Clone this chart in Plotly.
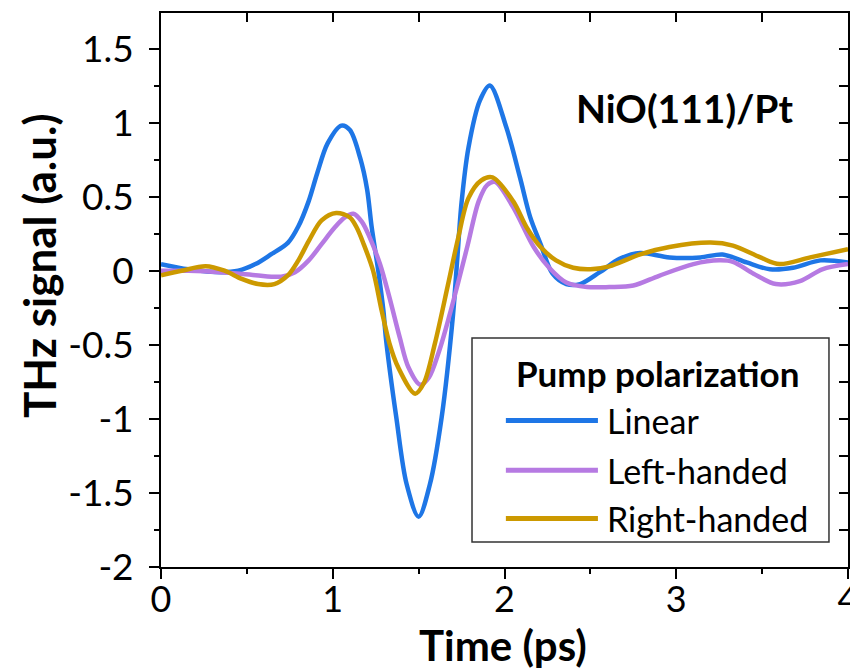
import numpy as np
import plotly.graph_objects as go

# ---------------- data ----------------
series_names = ["Linear", "Left-handed", "Right-handed"]
series_colors = ["rgb(30,118,230)", "rgb(182,122,226)", "rgb(204,153,0)"]

t_linear = [0.00, 0.16, 0.35, 0.45, 0.55, 0.64, 0.74, 0.80, 0.86, 0.91, 0.97, 1.05,
            1.10, 1.16, 1.20, 1.226, 1.265, 1.295, 1.31, 1.37, 1.43, 1.50, 1.566,
            1.634, 1.70, 1.725, 1.75, 1.79, 1.857, 1.915, 2.01, 2.09, 2.15, 2.21,
            2.28, 2.36, 2.44, 2.555, 2.67, 2.79, 2.96, 3.14, 3.27, 3.41, 3.545,
            3.68, 3.84, 4.00]
v_linear = [0.045, 0.01, -0.01, 0.00, 0.045, 0.11, 0.19, 0.30, 0.47, 0.66, 0.86, 0.98,
            0.95, 0.76, 0.55, 0.30, 0.00, -0.27, -0.46, -0.99, -1.44, -1.66, -1.44,
            -0.99, -0.30, 0.08, 0.46, 0.83, 1.15, 1.25, 0.97, 0.63, 0.36, 0.18,
            -0.02, -0.09, -0.09, -0.01, 0.08, 0.12, 0.09, 0.09, 0.11, 0.056, 0.01,
            0.02, 0.07, 0.055]

t_left = [0.00, 0.16, 0.35, 0.55, 0.70, 0.78, 0.86, 0.935, 1.01, 1.07, 1.12, 1.17,
          1.215, 1.275, 1.33, 1.39, 1.44, 1.51, 1.56, 1.62, 1.68, 1.73, 1.785,
          1.85, 1.90, 1.945, 2.05, 2.17, 2.26, 2.36, 2.48, 2.61, 2.75, 2.90, 3.10,
          3.25, 3.33, 3.45, 3.58, 3.72, 3.85, 4.00]
v_left = [0.00, 0.00, -0.01, -0.03, -0.04, -0.01, 0.07, 0.18, 0.29, 0.36, 0.385, 0.33,
          0.225, 0.045, -0.18, -0.45, -0.65, -0.77, -0.72, -0.54, -0.30, -0.08, 0.17,
          0.47, 0.58, 0.60, 0.43, 0.16, 0.02, -0.08, -0.11, -0.11, -0.10, -0.034, 0.045,
          0.07, 0.06, -0.02, -0.09, -0.07, 0.01, 0.045]

t_right = [0.00, 0.12, 0.26, 0.37, 0.47, 0.565, 0.66, 0.74, 0.80, 0.86, 0.935, 1.02,
           1.10, 1.14, 1.18, 1.235, 1.285, 1.33, 1.38, 1.48, 1.53, 1.595, 1.67, 1.73,
           1.79, 1.865, 1.93, 2.05, 2.13, 2.21, 2.30, 2.40, 2.50, 2.61, 2.79, 2.96,
           3.20, 3.33, 3.49, 3.60, 3.78, 4.00]
v_right = [-0.03, 0.00, 0.03, 0.00, -0.055, -0.09, -0.09, -0.03, 0.07, 0.20, 0.34, 0.39,
           0.36, 0.29, 0.18, 0.00, -0.27, -0.49, -0.65, -0.83, -0.76, -0.49, -0.10, 0.22,
           0.49, 0.61, 0.63, 0.47, 0.29, 0.16, 0.07, 0.02, 0.01, 0.03, 0.11, 0.16,
           0.19, 0.17, 0.09, 0.045, 0.09, 0.146]

x_tickvals = [0, 1, 2, 3, 4]
x_ticktext = ["0", "1", "2", "3", "4"]
y_tickvals = [-2, -1.5, -1, -0.5, 0, 0.5, 1, 1.5]
y_ticktext = ["-2", "-1.5", "-1", "-0.5", "0", "0.5", "1", "1.5"]

x_title = "Time (ps)"
y_title = "THz signal (a.u.)"
sample_label = "NiO(111)/Pt"
legend_title = "Pump polarization"

# ---------------- figure ----------------
# The page body has an 8px margin, so the figure is 8px smaller on each axis.
FONT = "Lato, 'Open Sans', sans-serif"
fig = go.Figure()

all_t = [t_linear, t_left, t_right]
all_v = [v_linear, v_left, v_right]
for name, color, tt, vv in zip(series_names, series_colors, all_t, all_v):
    fig.add_trace(go.Scatter(x=tt, y=vv, mode="lines", name=name,
                             line=dict(color=color, width=4.5, shape="spline", smoothing=0.9),
                             showlegend=False))

XR = [0, 4]
YR = [-2, 1.74]

axis_common = dict(showgrid=False, zeroline=False, showline=True, linecolor="black",
                   linewidth=2, tickcolor="black", tickwidth=2)

fig.update_layout(
    width=850, height=664,
    margin=dict(l=153, r=10, t=5, b=105, autoexpand=False),
    paper_bgcolor="white", plot_bgcolor="white",
    font=dict(family=FONT, color="black"),
    xaxis=dict(range=XR, tickmode="array", tickvals=x_tickvals, ticktext=x_ticktext,
               ticks="outside", ticklen=10, tickfont=dict(size=36, family=FONT),
               ticklabelstandoff=-10, ticklabeloverflow="allow",
               minor=dict(tickmode="array", tickvals=list(np.arange(0, 4.01, 0.5)),
                          ticks="outside", ticklen=5, tickwidth=2, tickcolor="black"),
               **axis_common),
    yaxis=dict(range=YR, tickmode="array", tickvals=y_tickvals, ticktext=y_ticktext,
               ticks="outside", ticklen=10, tickfont=dict(size=37, family=FONT),
               ticklabelstandoff=8, ticklabeloverflow="allow",
               minor=dict(tickmode="array", tickvals=list(np.arange(-2, 1.74, 0.25)),
                          ticks="outside", ticklen=5, tickwidth=2, tickcolor="black"),
               **axis_common),
    xaxis2=dict(range=XR, overlaying="x", side="top", matches="x", tickmode="array",
                tickvals=list(np.arange(0, 4.01, 0.5)), ticks="inside", ticklen=9,
                showticklabels=False, **axis_common),
    yaxis2=dict(range=YR, overlaying="y", side="right", matches="y", tickmode="array",
                tickvals=list(np.arange(-2, 1.74, 0.25)), ticks="inside", ticklen=9,
                showticklabels=False, **axis_common),
)
# invisible trace to activate the mirrored axes
fig.add_trace(go.Scatter(x=[None], y=[None], xaxis="x2", yaxis="y2", showlegend=False,
                         hoverinfo="skip"))

# axis titles
fig.add_annotation(text=f"<b>{x_title}</b>", xref="paper", yref="paper", x=0.4985, y=-0.1408,
                   xanchor="center", yanchor="middle", showarrow=False,
                   font=dict(size=42, family=FONT, color="black"))
fig.add_annotation(text=f"<b>{y_title}</b>", xref="paper", yref="paper", x=-0.1776, y=0.545,
                   xanchor="center", yanchor="middle", showarrow=False, textangle=-90,
                   font=dict(size=44, family=FONT, color="black"))
# sample label
fig.add_annotation(text=f"<b>{sample_label}</b>", xref="paper", yref="paper", x=0.7613, y=0.8285,
                   xanchor="center", yanchor="middle", showarrow=False,
                   font=dict(size=39, family=FONT, color="black"))

# ---------------- legend (box, title, entries) ----------------
fig.add_shape(type="rect", xref="paper", yref="paper", x0=0.4527, x1=0.9723, y0=0.0451, y1=0.4134,
              line=dict(color="#333333", width=1.5), fillcolor="white", layer="above")
fig.add_annotation(text=f"<b>{legend_title}</b>", xref="paper", yref="paper", x=0.7234, y=0.350,
                   xanchor="center", yanchor="middle", showarrow=False,
                   font=dict(size=35, family=FONT, color="black"))
entry_y = [0.2645, 0.1745, 0.0875]
for name, color, yy in zip(series_names, series_colors, entry_y):
    fig.add_shape(type="line", xref="paper", yref="paper", x0=0.502, x1=0.636, y0=yy, y1=yy,
                  line=dict(color=color, width=5), layer="above")
    fig.add_annotation(text=name, xref="paper", yref="paper", x=0.647, y=yy,
                       xanchor="left", yanchor="middle", showarrow=False,
                       font=dict(size=34, family=FONT, color="black"))

fig.write_html("out.html")
